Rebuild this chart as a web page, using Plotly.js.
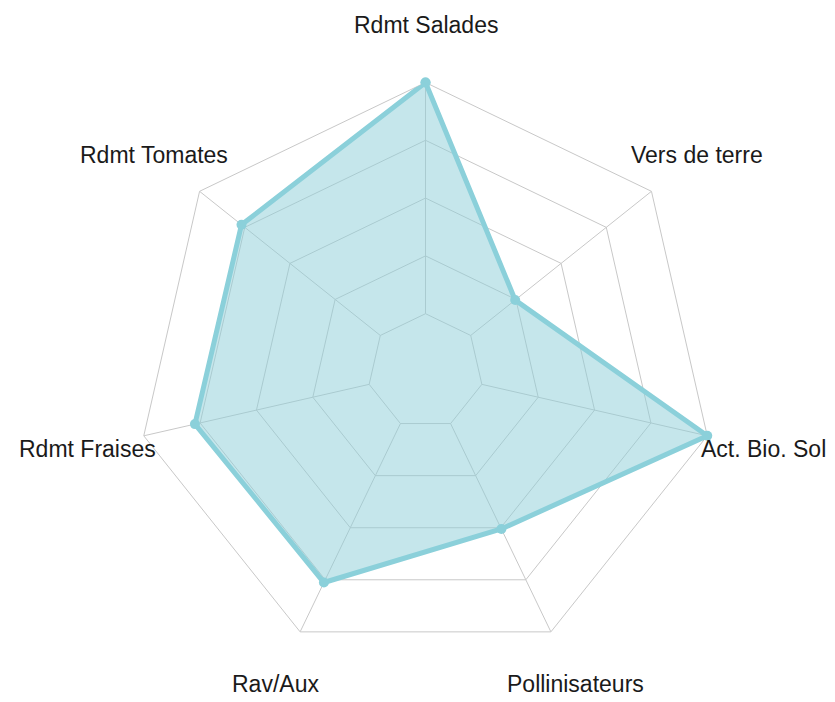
<!DOCTYPE html>
<html>
<head>
<meta charset="utf-8">
<script src="https://cdn.plot.ly/plotly-3.0.1.min.js"></script>
<style>html,body{margin:0;padding:0;background:#fff;}#chart{width:835px;height:702px;}</style>
</head>
<body>
<div id="chart"></div>
<script>
const categories = ["Rdmt Salades", "Vers de terre", "Act. Bio. Sol", "Pollinisateurs", "Rav/Aux", "Rdmt Fraises", "Rdmt Tomates"];
const values = [1.0, 0.246, 1.0, 0.506, 0.763, 0.773, 0.768];
const gridLevels = [0, 0.25, 0.5, 0.75, 1];
const radialRange = [-0.25, 1];
const labelFactor = 1.2;

const W = 835, H = 702;
const domX = [0.1635, 0.8557];
const domY = [0.0591, 0.8825];

const closedCats = categories.concat([categories[0]]);
const closedVals = values.concat([values[0]]);

// spokes from innermost ring to outer ring
const spokeR = [], spokeT = [];
categories.forEach(c => {
  spokeR.push(gridLevels[0], gridLevels[gridLevels.length - 1], null);
  spokeT.push(c, c, null);
});

const traces = [
  {
    type: 'scatterpolar',
    r: spokeR,
    theta: spokeT,
    mode: 'lines',
    line: {color: '#c8c8c8', width: 1},
    connectgaps: false,
    hoverinfo: 'skip',
    showlegend: false
  },
  {
    type: 'scatterpolar',
    r: closedVals,
    theta: closedCats,
    mode: 'lines+markers',
    fill: 'toself',
    fillcolor: 'rgba(140,205,215,0.5)',
    line: {color: '#8bd0da', width: 5},
    marker: {color: '#8bd0da', size: 10},
    hoverinfo: 'skip',
    showlegend: false
  }
];

// category labels placed at labelFactor x outer radius, derived from the polar domain
const cxPx = (domX[0] + domX[1]) / 2 * W;
const cyPx = (domY[0] + domY[1]) / 2 * H;
const Rpx = Math.min((domX[1] - domX[0]) * W, (domY[1] - domY[0]) * H) / 2;
const annotations = categories.map((c, i) => {
  const a = i * 2 * Math.PI / categories.length;
  const x = (cxPx + labelFactor * Rpx * Math.sin(a)) / W;
  const y = (cyPx + labelFactor * Rpx * Math.cos(a)) / H;
  return {
    text: c, x: x, y: y, xref: 'paper', yref: 'paper',
    xanchor: 'center', yanchor: 'middle', showarrow: false,
    font: {family: 'Liberation Sans, Arial, sans-serif', size: 23, color: '#1a1a1a'}
  };
});

const layout = {
  width: W,
  height: H,
  margin: {l: 0, r: 0, t: 0, b: 0},
  paper_bgcolor: '#ffffff',
  showlegend: false,
  annotations: annotations,
  polar: {
    domain: {x: domX, y: domY},
    bgcolor: 'rgba(0,0,0,0)',
    gridshape: 'linear',
    radialaxis: {
      range: radialRange,
      tickvals: gridLevels,
      showticklabels: false,
      ticks: '',
      showline: false,
      showgrid: true,
      gridcolor: '#c8c8c8',
      gridwidth: 1,
      layer: 'below traces'
    },
    angularaxis: {
      direction: 'clockwise',
      rotation: 90,
      showticklabels: false,
      ticks: '',
      showline: true,
      linecolor: '#c8c8c8',
      linewidth: 1,
      showgrid: false,
      layer: 'below traces'
    }
  }
};

Plotly.newPlot('chart', traces, layout, {displayModeBar: false, staticPlot: true});
</script>
</body>
</html>
